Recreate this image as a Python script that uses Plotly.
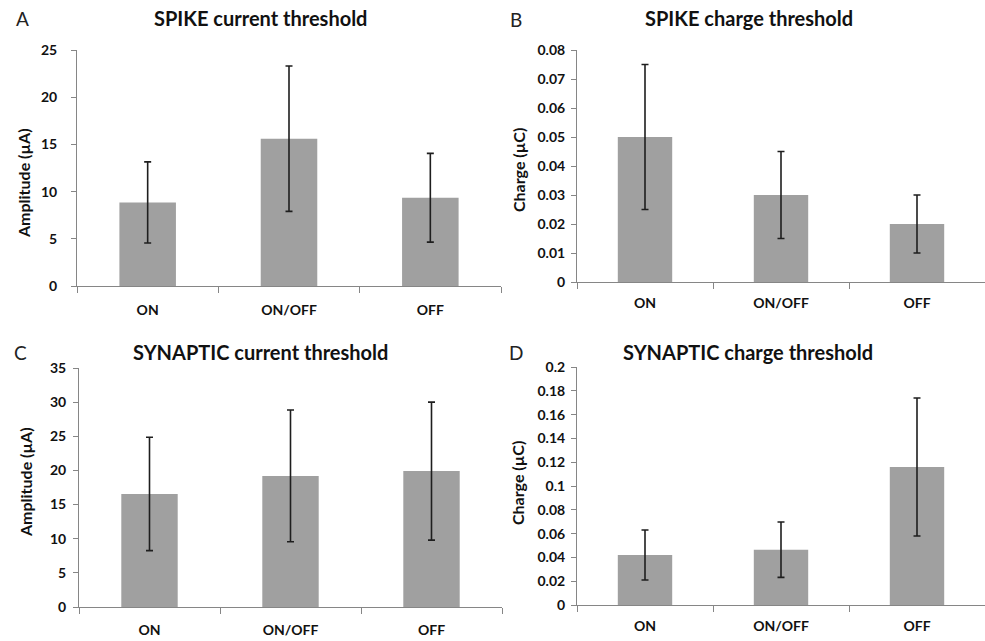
import plotly.graph_objects as go

categories = ["ON", "ON/OFF", "OFF"]

spike_current = [8.85, 15.6, 9.35]
spike_current_err = [4.3, 7.7, 4.7]

spike_charge = [0.05, 0.03, 0.02]
spike_charge_err = [0.025, 0.015, 0.01]

syn_current = [16.55, 19.2, 19.9]
syn_current_err = [8.3, 9.65, 10.1]

syn_charge = [0.042, 0.0465, 0.116]
syn_charge_err = [0.021, 0.0233, 0.058]

titles = ["SPIKE current threshold", "SPIKE charge threshold",
          "SYNAPTIC current threshold", "SYNAPTIC charge threshold"]
letters = ["A", "B", "C", "D"]
ytitles = ["Amplitude (µA)", "Charge (µC)", "Amplitude (µA)", "Charge (µC)"]
yranges = [[0, 25], [0, 0.08], [0, 35], [0, 0.2]]
ydticks = [5, 0.01, 5, 0.02]

W, H = 985, 641
FONT = "Lato"
BAR = "#a0a0a0"
ERR = "#1e1e1e"
AXIS = "#868686"
TXT = "#111111"

# panel geometry in pixels: (x0, x1, ybottom, ytop)
panels = [(77, 501, 286, 50), (577, 985, 282, 50), (79, 502, 607, 368), (577, 985, 605, 367)]
title_pos = [(260, 18), (749, 18), (260, 352), (748, 352)]
letter_pos = [(22, 18), (516, 19), (20, 352), (516, 352)]
ytitle_pos = [(23, 183), (518, 170), (25, 482), (517, 483)]
ystandoff = [11, 3, 4, 3]
xstandoff = [11, 8, 10, 8]

data = [(spike_current, spike_current_err), (spike_charge, spike_charge_err),
        (syn_current, syn_current_err), (syn_charge, syn_charge_err)]

fig = go.Figure()
annotations = []
for i in range(4):
    vals, errs = data[i]
    ax = "" if i == 0 else str(i + 1)
    fig.add_trace(go.Bar(
        x=categories, y=vals, width=0.4,
        marker=dict(color=BAR, line=dict(width=0)),
        error_y=dict(type="data", array=errs, visible=True, color=ERR, thickness=1.6, width=3.5),
        xaxis="x" + ax, yaxis="y" + ax, showlegend=False,
    ))
    x0, x1, yb, yt = panels[i]
    fig.update_layout(**{
        "xaxis" + ax: dict(
            domain=[x0 / W, x1 / W], anchor="y" + ax, automargin=False,
            showline=True, linecolor=AXIS, linewidth=1,
            ticks="outside", tickson="boundaries", ticklen=6, tickcolor=AXIS,
            showgrid=False, zeroline=False, fixedrange=True,
            tickfont=dict(family=FONT, size=14, color=TXT, weight="bold"),
            ticklabelstandoff=xstandoff[i],
        ),
        "yaxis" + ax: dict(
            domain=[1 - yb / H, 1 - yt / H], anchor="x" + ax, automargin=False,
            range=yranges[i], dtick=ydticks[i],
            showline=True, linecolor=AXIS, linewidth=1,
            ticks="outside", ticklen=5, tickcolor=AXIS,
            showgrid=False, zeroline=False, fixedrange=True,
            tickfont=dict(family=FONT, size=14, color=TXT, weight="bold"),
            ticklabelstandoff=ystandoff[i],
        ),
    })
    tx, ty = title_pos[i]
    annotations.append(dict(x=tx / W, y=1 - ty / H, xref="paper", yref="paper",
                            text="<b>" + titles[i] + "</b>", showarrow=False,
                            xanchor="center", yanchor="middle",
                            font=dict(family=FONT, size=20, color=TXT)))
    lx, ly = letter_pos[i]
    annotations.append(dict(x=lx / W, y=1 - ly / H, xref="paper", yref="paper",
                            text=letters[i], showarrow=False,
                            xanchor="center", yanchor="middle",
                            font=dict(family=FONT, size=19, color="#222222")))
    yx, yy = ytitle_pos[i]
    annotations.append(dict(x=yx / W, y=1 - yy / H, xref="paper", yref="paper",
                            text="<b>" + ytitles[i] + "</b>", showarrow=False,
                            textangle=-90, xanchor="center", yanchor="middle",
                            font=dict(family=FONT, size=16, color=TXT)))

fig.update_layout(
    template="none",
    width=W, height=H,
    margin=dict(l=0, r=0, t=0, b=0, pad=0),
    paper_bgcolor="white", plot_bgcolor="white",
    annotations=annotations,
    bargap=0.6,
)

fig.write_html(
    "out.html",
    config={"displayModeBar": False},
    post_script="document.body.style.margin='0';document.body.style.overflow='hidden';",
)
